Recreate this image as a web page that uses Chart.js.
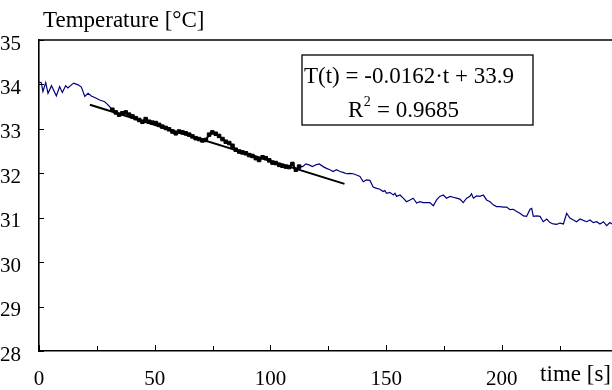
<!DOCTYPE html>
<html>
<head>
<meta charset="utf-8">
<script src="https://cdn.jsdelivr.net/npm/chart.js@4"></script>
<style>
  body { margin: 0; background: #fff; }
  canvas { display: block; }
</style>
</head>
<body>
<canvas id="tempChart" width="612" height="390"></canvas>
<script>
      const timeS = [
        0, 1.0, 1.7, 2.9, 3.9, 5.4, 7.5, 8.9, 10.1, 11.5, 12.5, 14.0, 15.0, 16.9,
        18.3, 19.8, 21.2, 22.6, 24.3, 26.2, 28.4, 29.8,
        31.7, 33.2, 34.6, 36.0, 37.5, 38.9, 40.4, 41.8, 43.3, 44.7, 46.1, 47.6,
        49.0, 50.5, 51.9, 53.3, 54.8, 56.2, 57.7, 59.1, 60.5, 62.0, 63.4, 64.9,
        66.3, 67.7, 69.2, 70.6, 72.1, 73.5, 74.9, 76.4, 77.8, 79.3, 80.7, 82.2,
        83.6, 85.0, 86.5, 87.9, 89.4, 90.8, 92.2, 93.7, 95.1, 96.6, 98.0, 99.5,
        100.9, 102.3, 103.8, 105.2, 106.7, 108.1, 109.5, 111.0, 112.4,
        113.9, 115.3, 116.7, 118.2, 119.6, 121.1, 122.8, 124.2, 125.7, 127.1,
        128.6, 130.0, 131.4, 132.9, 134.3, 135.8, 137.2, 138.7, 140.1, 141.5,
        143.0, 144.4, 145.9, 147.3, 148.7, 149.4, 150.2, 151.6, 153.1, 153.8,
        154.5, 156.0, 157.4, 158.8, 160.3, 161.7, 163.2, 164.6, 166.0, 167.5,
        168.9, 170.4, 171.8, 173.2, 174.7, 176.1, 177.6, 179.0, 180.4, 181.9,
        183.3, 184.8, 186.2, 186.9, 187.7, 189.1, 190.5, 192.0, 193.4, 194.9,
        196.3, 197.7, 199.2, 200.6, 202.1, 203.5, 204.9, 206.4, 207.8, 209.3,
        210.7, 212.2, 212.9, 213.6, 215.0, 216.5, 217.9, 219.4, 220.8, 222.2,
        223.7, 225.1, 226.6, 228.0, 229.4, 230.9, 232.3, 233.8, 235.2, 236.7,
        238.1, 239.5, 241.0, 242.4, 243.9, 245.3, 246.7, 247.6
      ];
      const tempC = [
        34.05, 34.04, 33.84, 34.04, 33.80, 33.97, 33.74, 33.95, 33.82, 33.97, 33.92, 33.99, 34.03, 33.99,
        33.94, 33.73, 33.80, 33.74, 33.70, 33.65, 33.61, 33.54,
        33.43, 33.37, 33.32, 33.35, 33.37, 33.32, 33.28, 33.24, 33.20, 33.16, 33.22, 33.16,
        33.14, 33.13, 33.09, 33.05, 33.02, 32.99, 32.94, 32.90, 32.94, 32.92, 32.90, 32.87,
        32.83, 32.79, 32.77, 32.74, 32.75, 32.87, 32.92, 32.89, 32.84, 32.77, 32.71, 32.68,
        32.62, 32.53, 32.49, 32.47, 32.45, 32.41, 32.39, 32.34, 32.30, 32.36, 32.34, 32.29,
        32.24, 32.23, 32.19, 32.17, 32.15, 32.14, 32.21, 32.08, 32.15,
        32.15, 32.21, 32.19, 32.15, 32.19, 32.21, 32.15, 32.11, 32.08, 32.04,
        32.08, 32.04, 32.02, 31.99, 32.00, 31.99, 31.96, 31.93, 31.81, 31.85,
        31.84, 31.69, 31.66, 31.64, 31.59, 31.61, 31.55, 31.57, 31.51, 31.55,
        31.48, 31.51, 31.44, 31.36, 31.40, 31.44, 31.33, 31.36, 31.34, 31.34,
        31.34, 31.27, 31.40, 31.48, 31.51, 31.44, 31.48, 31.46, 31.44, 31.42,
        31.34, 31.44, 31.48, 31.54, 31.44, 31.49, 31.48, 31.51, 31.40, 31.36,
        31.29, 31.25, 31.25, 31.24, 31.24, 31.18, 31.19, 31.14, 31.10, 31.04,
        31.03, 31.19, 31.21, 31.03, 31.04, 31.03, 30.91, 30.97, 30.89, 30.86,
        30.85, 30.88, 30.86, 31.10, 30.99, 30.95, 30.91, 30.97, 30.94, 30.91,
        30.95, 30.89, 30.91, 30.86, 30.91, 30.82, 30.89, 30.86
      ];

      // time window used for the linear fit (black markers)
      const fitWindow = [31.7, 112.4];
      // drawn extent of the trend line and its coefficients
      const trendT = [22, 132];
      const fitSlope = -0.0162;
      const fitIntercept = 33.9;
      const rSquared = 0.9685;

      const xMajor = [0, 50, 100, 150, 200];
      const xMinor = [25, 75, 125, 175, 225];
      const yTicks = [28, 29, 30, 31, 32, 33, 34, 35];

      const serif = "'Liberation Serif', 'Times New Roman', serif";

      const allPoints = timeS.map((t, i) => ({ x: t, y: tempC[i] }));
      const fitPoints = allPoints.filter((p) => p.x >= fitWindow[0] && p.x <= fitWindow[1]);
      const trendPoints = trendT.map((t) => ({ x: t, y: fitIntercept + fitSlope * t }));

      // text, equation box, inward tick marks and top frame line
      const decorPlugin = {
        id: "decor",
        afterDraw(chart) {
          const ctx = chart.ctx;
          const area = chart.chartArea;
          const xs = chart.scales.x;
          const ys = chart.scales.y;
          ctx.save();
          ctx.strokeStyle = "#000";
          ctx.fillStyle = "#000";

          // top frame
          ctx.lineWidth = 1.5;
          ctx.beginPath();
          ctx.moveTo(area.left, area.top);
          ctx.lineTo(area.right, area.top);
          ctx.stroke();

          // inward ticks
          ctx.lineWidth = 1;
          ctx.beginPath();
          yTicks.forEach((v) => {
            const py = Math.round(ys.getPixelForValue(v)) + 0.5;
            ctx.moveTo(area.left, py);
            ctx.lineTo(area.left + 5, py);
          });
          xMajor.forEach((v) => {
            const px = Math.round(xs.getPixelForValue(v)) + 0.5;
            ctx.moveTo(px, area.bottom);
            ctx.lineTo(px, area.bottom - 6);
          });
          xMinor.forEach((v) => {
            const px = Math.round(xs.getPixelForValue(v)) + 0.5;
            ctx.moveTo(px, area.bottom);
            ctx.lineTo(px, area.bottom - 5);
          });
          ctx.stroke();

          // axis titles
          ctx.font = "23px " + serif;
          ctx.textBaseline = "alphabetic";
          ctx.textAlign = "left";
          ctx.fillText("Temperature [°C]", 43, 27);
          ctx.textAlign = "right";
          ctx.fillText("time [s]", 611, 381);

          // equation box
          ctx.fillStyle = "#fff";
          ctx.fillRect(302, 55, 231, 70);
          ctx.lineWidth = 1.3;
          ctx.strokeRect(302, 55, 231, 70);
          ctx.fillStyle = "#000";
          ctx.textAlign = "left";
          ctx.font = "23px " + serif;
          ctx.fillText("T(t) = " + fitSlope.toFixed(4) + "·t + " + fitIntercept.toFixed(1), 304, 83);
          ctx.fillText("R", 348, 117);
          const rw = ctx.measureText("R").width;
          ctx.font = "14px " + serif;
          ctx.fillText("2", 348 + rw + 0.5, 106);
          const sw = ctx.measureText("2").width;
          ctx.font = "23px " + serif;
          ctx.fillText(" = " + rSquared.toFixed(4), 348 + rw + sw + 1, 117);

          ctx.restore();
        },
      };

      const ctx = document.getElementById("tempChart").getContext("2d");
      const chart = new Chart(ctx, {
        type: "line",
        data: {
          datasets: [
            {
              label: "trend",
              data: trendPoints,
              borderColor: "#000",
              borderWidth: 2,
              pointRadius: 0,
              order: 0,
            },
            {
              label: "fit data",
              data: fitPoints,
              borderColor: "#000",
              backgroundColor: "#000",
              borderWidth: 2,
              pointStyle: "rect",
              pointRadius: 2.5,
              pointBorderWidth: 1,
              tension: 0,
              order: 1,
            },
            {
              label: "temperature",
              data: allPoints,
              borderColor: "#000080",
              borderWidth: 1.2,
              pointRadius: 0,
              tension: 0,
              order: 2,
            },
          ],
        },
        options: {
          responsive: false,
          animation: false,
          layout: { autoPadding: false, padding: { top: 40, left: 0, right: 0, bottom: 0 } },
          plugins: {
            legend: { display: false },
            tooltip: { enabled: false },
          },
          scales: {
            x: {
              type: "linear",
              min: 0,
              max: 247.6,
              grid: { display: false },
              border: { display: true, color: "#000", width: 1.6 },
              afterBuildTicks(scale) {
                scale.ticks = xMajor.map((v) => ({ value: v }));
              },
              ticks: {
                autoSkip: false,
                maxRotation: 0,
                padding: 8,
                color: "#000",
                font: { family: serif, size: 21 },
              },
              afterFit(scale) {
                scale.height = 39;
              },
            },
            y: {
              type: "linear",
              min: 28,
              max: 35,
              grid: { display: false },
              border: { display: true, color: "#000", width: 1.6 },
              afterBuildTicks(scale) {
                scale.ticks = yTicks.map((v) => ({ value: v }));
              },
              ticks: {
                padding: 10,
                labelOffset: 4,
                color: "#000",
                font: { family: serif, size: 21 },
              },
              afterFit(scale) {
                scale.width = 39;
              },
            },
          },
        },
        plugins: [decorPlugin],
      });
</script>
</body>
</html>
